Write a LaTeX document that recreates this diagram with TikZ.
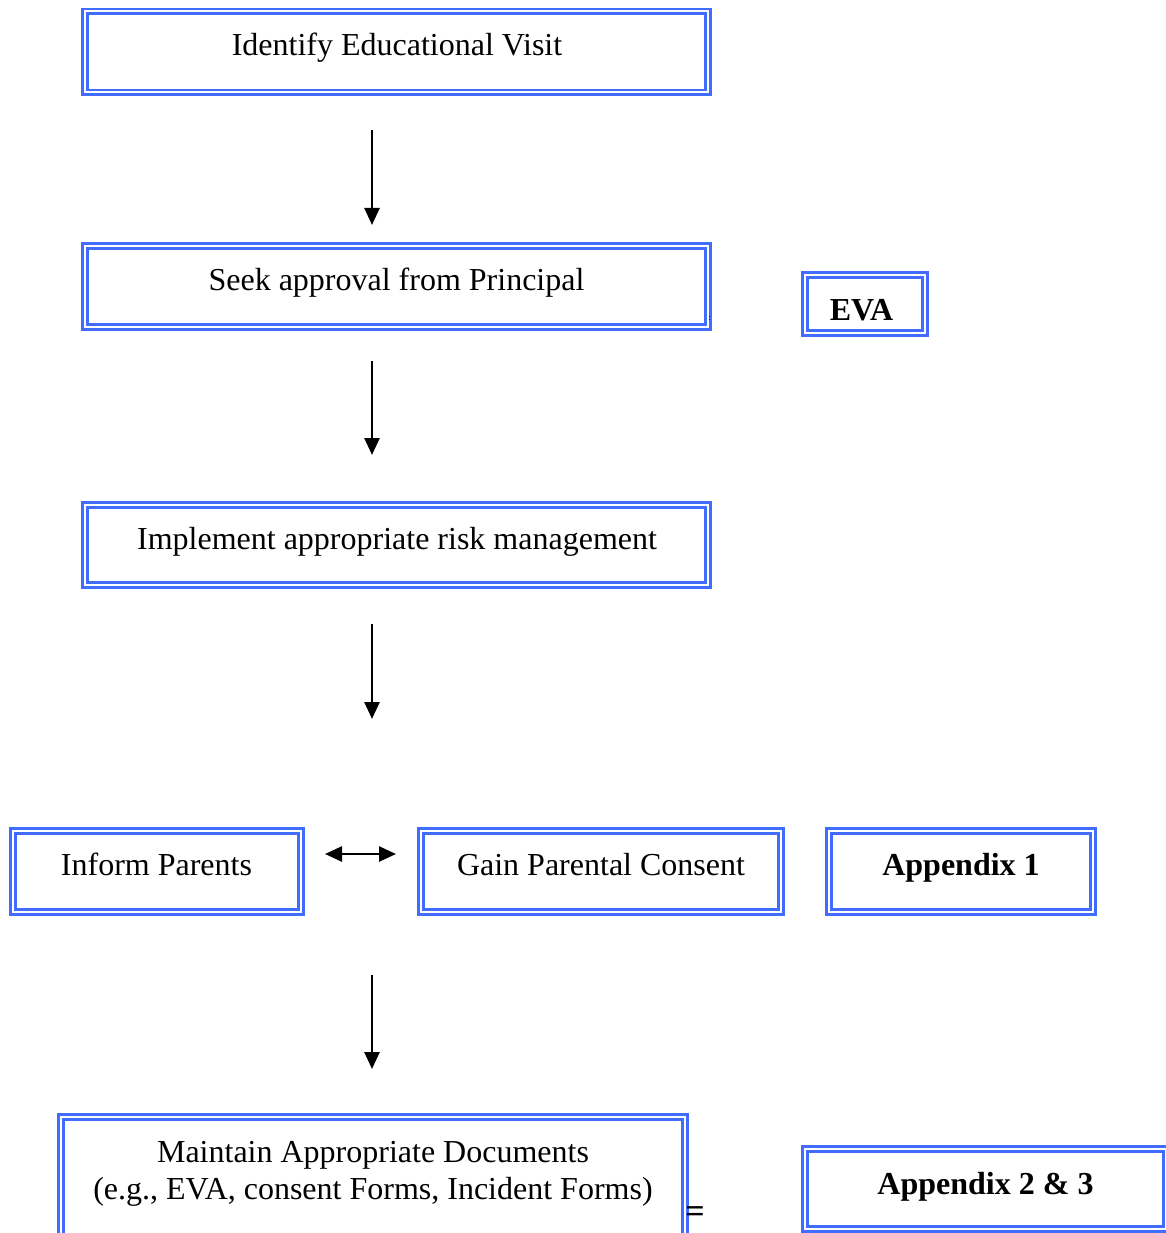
\documentclass[tikz,border=0pt]{standalone}
\usepackage{fontspec}
\setmainfont{Liberation Serif}
\usetikzlibrary{calc,arrows.meta}
\definecolor{bx}{RGB}{64,108,255}
\begin{document}
\begin{tikzpicture}[x=1pt,y=-1pt,
  dbox/.style={draw=bx, line width=2.8pt, double=white, double distance=2pt, inner sep=0pt, outer sep=0pt},
  lab/.style={anchor=base, inner sep=0pt, font=\fontsize{32}{38}\selectfont},
  blab/.style={anchor=base, inner sep=0pt, font=\fontsize{32}{38}\selectfont\bfseries},
  tip/.tip={Triangle[width=15pt,length=17pt]},
  arr/.style={line width=2.6pt, -tip},
  darr/.style={line width=2.6pt, tip-tip}]
\useasboundingbox (0,0) rectangle (1166,1233);
\clip (0,0) rectangle (1166,1233);
\coordinate (ax) at (372,0);
% boxes
\node[dbox, minimum width=623pt, minimum height=81pt] (b1) at (396.5,52) {};
\node[dbox, minimum width=623pt, minimum height=81pt] (b2) at (396.5,286.5) {};
\node[dbox, minimum width=623pt, minimum height=80pt] (b3) at (396.5,545) {};
\node[dbox, minimum width=120pt, minimum height=58pt] (eva) at (865,304) {};
\node[dbox, minimum width=288pt, minimum height=81pt] (ip) at (157,871.5) {};
\node[dbox, minimum width=360pt, minimum height=81pt] (gc) at (601,871.5) {};
\node[dbox, minimum width=264pt, minimum height=81pt] (a1) at (961,871.5) {};
\node[dbox, minimum width=624pt, minimum height=139pt] (mad) at (373,1186.5) {};
\node[dbox, minimum width=361pt, minimum height=80pt] (a23) at (985.5,1189) {};
% labels
\node[lab] (t1) at (397,56) {Identify Educational Visit};
\node[lab] (t2) at (396.5,290) {Seek approval from Principal};
\node[lab] (t3) at (397,549) {Implement appropriate risk management};
\node[blab] (t4) at (861.5,320) {EVA};
\node[lab] (t5) at (156.5,875) {Inform Parents};
\node[lab] (t6) at (601,875) {Gain Parental Consent};
\node[blab] (t7) at (961,875) {Appendix 1};
\node[lab] (t8) at (373,1162) {Maintain Appropriate Documents};
\node[lab] (t9) at (373,1199) {(e.g., EVA, consent Forms, Incident Forms)};
\node[blab] (t10) at (985.5,1194) {Appendix 2 \& 3};
\node[anchor=center, inner sep=0pt, font=\fontsize{34}{34}\selectfont\bfseries] (eq) at (695,1215) {=};
\node[anchor=base, inner sep=0pt, font=\fontsize{9}{9}\selectfont] (col) at (709.5,320) {:};
% connectors
\draw[arr] ($(b1.south -| ax)+(0,37.5)$) -- ($(b2.north -| ax)+(0,-21)$);
\draw[arr] ($(b2.south -| ax)+(0,34)$) -- ($(b3.north -| ax)+(0,-50)$);
\draw[arr] ($(b3.south -| ax)+(0,39)$) -- ($(gc.north -| ax)+(0,-112)$);
\draw[arr] ($(gc.south -| ax)+(0,63)$) -- ($(mad.north -| ax)+(0,-48)$);
\draw[darr] ($(ip.east)+(24,-17.5)$) -- ($(gc.west)+(-25,-17.5)$);
\end{tikzpicture}
\end{document}
